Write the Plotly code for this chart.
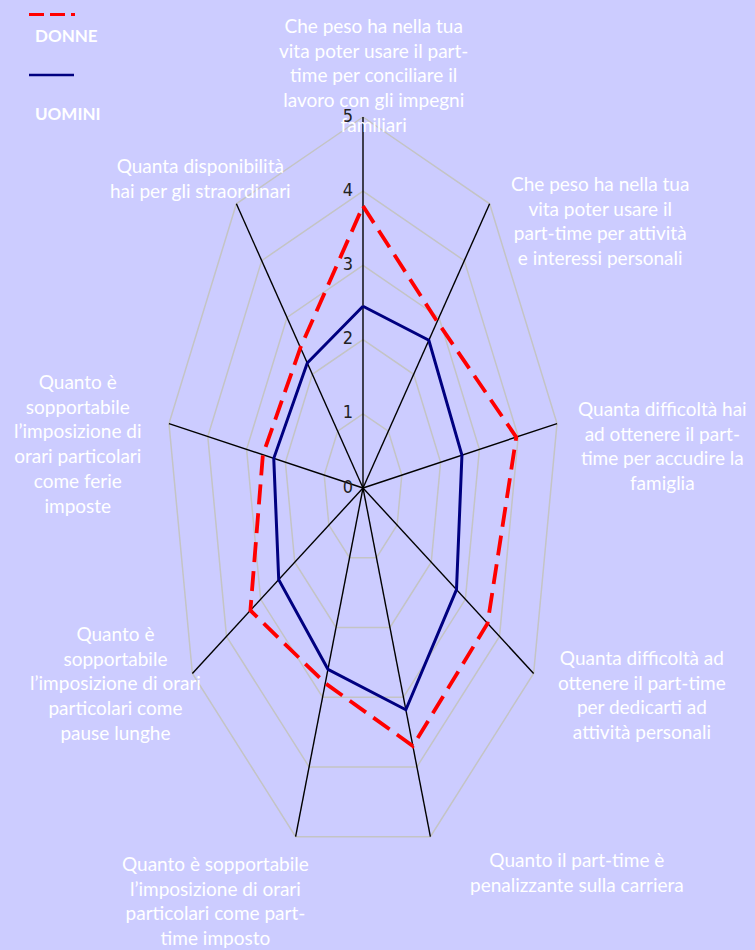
import numpy as np
import plotly.graph_objects as go

W, H = 755, 950

categories = [
    "Che peso ha nella tua<br>vita poter usare il part-<br>time per conciliare il<br>lavoro con gli impegni<br>familiari",
    "Che peso ha nella tua<br>vita poter usare il<br>part-time per attività<br>e interessi personali",
    "Quanta difficoltà hai<br>ad ottenere il part-<br>time per accudire la<br>famiglia",
    "Quanta difficoltà ad<br>ottenere il part-time<br>per dedicarti ad<br>attività personali",
    "Quanto il part-time è<br>penalizzante sulla carriera",
    "Quanto è sopportabile<br>l’imposizione di orari<br>particolari come part-<br>time imposto",
    "Quanto è<br>sopportabile<br>l’imposizione di orari<br>particolari come<br>pause lunghe",
    "Quanto è<br>sopportabile<br>l’imposizione di<br>orari particolari<br>come ferie<br>imposte",
    "Quanta disponibilità<br>hai per gli straordinari",
]
donne = [3.8, 2.93, 3.95, 3.65, 3.7, 2.8, 3.3, 2.58, 2.47]
uomini = [2.45, 2.6, 2.55, 2.74, 3.18, 2.6, 2.47, 2.3, 2.2]
tick_values = [0, 1, 2, 3, 4, 5]
tick_labels = ["0", "1", "2", "3", "4", "5"]
r_max = 5

# label placement (pixel centres) for each category
label_px = [(373, 75), (600, 220), (662, 446), (642, 694), (577, 872),
            (215, 900), (115, 683), (78, 443), (200, 178)]

n = len(categories)
theta = np.arange(n) * 2 * np.pi / n  # clockwise from top


def xy(vals):
    v = np.asarray(vals, dtype=float)
    x = v * np.sin(theta)
    y = v * np.cos(theta)
    return np.append(x, x[0]), np.append(y, y[0])


# Cartesian axes stretched to reproduce the elliptical radar
cx, cy = 363, 488
px_x = 197 / r_max
px_y = 371 / r_max
x_range = [-cx / px_x, (W - cx) / px_x]
y_range = [-(H - cy) / px_y, cy / px_y]

fig = go.Figure()

# grid rings
for lvl in tick_values[1:]:
    gx, gy = xy([lvl] * n)
    fig.add_trace(go.Scatter(x=gx, y=gy, mode="lines",
                             line=dict(color="#C4C4C4", width=1.5),
                             hoverinfo="skip", showlegend=False))

# spokes
for t in theta:
    fig.add_trace(go.Scatter(x=[0, r_max * np.sin(t)], y=[0, r_max * np.cos(t)],
                             mode="lines", line=dict(color="black", width=1.4),
                             hoverinfo="skip", showlegend=False))

ux, uy = xy(uomini)
fig.add_trace(go.Scatter(x=ux, y=uy, mode="lines", name="UOMINI",
                         line=dict(color="#000080", width=3), showlegend=False))
dx, dy = xy(donne)
fig.add_trace(go.Scatter(x=dx, y=dy, mode="lines", name="DONNE",
                         line=dict(color="#FF0000", width=3.8, dash="20px,9px"),
                         showlegend=False))

# radial tick labels
fig.add_trace(go.Scatter(x=[-15 / px_x] * len(tick_values), y=tick_values,
                         mode="text", text=tick_labels,
                         textfont=dict(family="Liberation Sans Narrow, DejaVu Sans Condensed, Arial Narrow, sans-serif",
                                       size=18, color="#222222"),
                         hoverinfo="skip", showlegend=False))

annotations = []
for lab, (lx, ly) in zip(categories, label_px):
    annotations.append(dict(x=lx / W, y=1 - ly / H, xref="paper", yref="paper",
                            text=lab, showarrow=False, align="center",
                            xanchor="center", yanchor="middle",
                            font=dict(family="Lato, Open Sans, sans-serif", size=19, color="white")))

# legend
annotations.append(dict(x=33 / W, y=1 - 35 / H, xref="paper", yref="paper", text="<b>DONNE</b>",
                        showarrow=False, xanchor="left", yanchor="middle",
                        font=dict(family="Lato, Open Sans, sans-serif", size=17, color="white")))
annotations.append(dict(x=33 / W, y=1 - 113 / H, xref="paper", yref="paper", text="<b>UOMINI</b>",
                        showarrow=False, xanchor="left", yanchor="middle",
                        font=dict(family="Lato, Open Sans, sans-serif", size=17, color="white")))
shapes = [
    dict(type="line", xref="paper", yref="paper", x0=29 / W, x1=75 / W, y0=1 - 14.5 / H, y1=1 - 14.5 / H,
         line=dict(color="#FF0000", width=3, dash="15px,6px")),
    dict(type="line", xref="paper", yref="paper", x0=29 / W, x1=74 / W, y0=1 - 75 / H, y1=1 - 75 / H,
         line=dict(color="#000080", width=2.5)),
]

fig.update_layout(
    width=W, height=H,
    margin=dict(l=0, r=0, t=0, b=0),
    paper_bgcolor="#CCCCFF", plot_bgcolor="#CCCCFF",
    xaxis=dict(range=x_range, visible=False, fixedrange=True),
    yaxis=dict(range=y_range, visible=False, fixedrange=True),
    annotations=annotations, shapes=shapes,
    showlegend=False,
)

fig.write_html("out.html")
